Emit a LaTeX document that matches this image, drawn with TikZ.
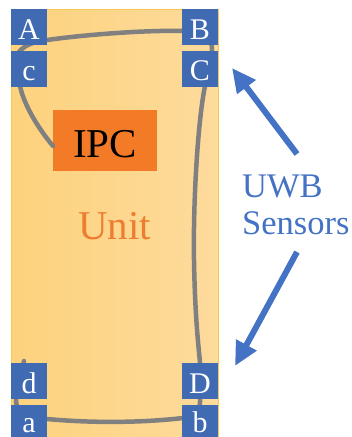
\documentclass[tikz,border=0pt]{standalone}
\usepackage{fontspec}
\setmainfont{Liberation Serif}
\usetikzlibrary{arrows.meta}
\definecolor{unitL}{RGB}{253,210,125}
\definecolor{unitR}{RGB}{253,219,156}
\definecolor{unitB}{RGB}{248,200,80}
\definecolor{sensblue}{RGB}{64,106,178}
\definecolor{ipcor}{RGB}{243,123,40}
\definecolor{unitor}{RGB}{237,125,49}
\definecolor{wire}{RGB}{128,128,128}
\definecolor{arrblue}{RGB}{68,114,196}
\tikzset{
  sbox/.style={fill=sensblue, draw=none, minimum width=36pt, minimum height=36pt, inner sep=0pt, anchor=north west},
  slabel/.style={text=white, font=\fontsize{30}{30}\selectfont, anchor=base, inner sep=0pt},
  wirepath/.style={draw=wire, line width=4.5pt, line cap=round},
  uwbarrow/.style={draw=arrblue, line width=6pt, -{Triangle[length=24pt,width=22pt]}}
}
\begin{document}
\begin{tikzpicture}[x=1pt,y=-1pt]
\useasboundingbox (0,0) rectangle (352,437);
\clip (0,0) rectangle (352,437);
% unit
\node[draw=unitB, line width=1pt, left color=unitL, right color=unitR, minimum width=207pt, minimum height=440pt, anchor=north west, inner sep=0pt] (unit) at (11,9) {};
% IPC
\node[fill=ipcor, minimum width=104pt, minimum height=61pt, inner sep=0pt, anchor=north west] (ipc) at (53,110) {};
\node[font=\fontsize{41}{41}\selectfont, anchor=base, inner sep=0pt] (ipct) at (105,157) {IPC};
\node[font=\fontsize{41}{41}\selectfont, text=unitor, anchor=base, inner sep=0pt] (unitt) at (114.5,239) {Unit};
% wire
\draw[wirepath] (53,146) .. controls (38,128) and (24,105) .. (20,86)
  -- (19,52) .. controls (25,44) and (38,41) .. (47,40)
  .. controls (90,34) and (150,30) .. (183,31)
  .. controls (200,31) and (213,38) .. (212,50)
  .. controls (211,60) and (207,75) .. (205,86)
  .. controls (198,120) and (193,200) .. (194,260)
  .. controls (195,320) and (199,350) .. (200,363)
  -- (200,402) .. controls (200,412) and (192,417) .. (183,418)
  .. controls (140,423) and (90,423) .. (47,419)
  .. controls (30,417) and (17,412) .. (16,402)
  .. controls (16,390) and (22,372) .. (24,361);
% sensor boxes
\node[sbox] (A) at (11,9) {};
\node[sbox] (c) at (11,51) {};
\node[sbox] (B) at (182,9) {};
\node[sbox] (C) at (182,51) {};
\node[sbox] (d) at (11,363) {};
\node[sbox] (a) at (11,405) {};
\node[sbox] (D) at (182,363) {};
\node[sbox] (b) at (182,405) {};
\node[slabel] at (29,39) {A};
\node[slabel] at (29,80) {c};
\node[slabel] at (200,39) {B};
\node[slabel] at (200,80) {C};
\node[slabel] at (29,393) {d};
\node[slabel] at (29,432) {a};
\node[slabel] at (200,393) {D};
\node[slabel] at (200,432) {b};
% UWB text and arrows
\node[text=arrblue, font=\fontsize{34.5}{37}\selectfont, align=left, anchor=base west, inner sep=0pt] (uwb) at (242,234) {UWB\\Sensors};
\coordinate (t1) at (297,154);
\coordinate (h1) at (232,68);
\coordinate (t2) at (297,252);
\coordinate (h2) at (235,366);
\draw[uwbarrow] (t1) -- (h1);
\draw[uwbarrow] (t2) -- (h2);
\end{tikzpicture}
\end{document}
